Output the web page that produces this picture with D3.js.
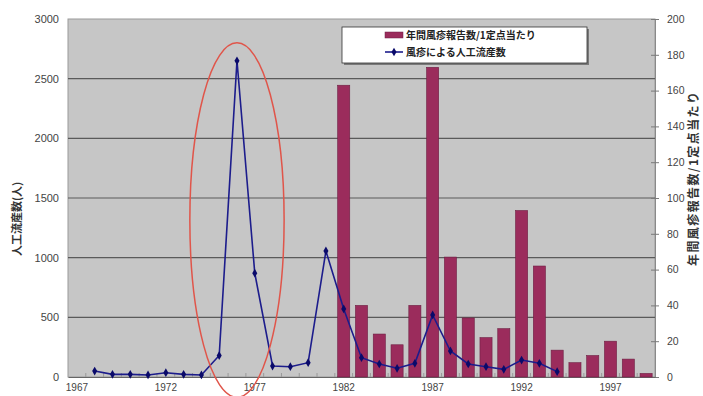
<!DOCTYPE html>
<html>
<head>
<meta charset="utf-8">
<script src="https://cdn.jsdelivr.net/npm/d3@7"></script>
<style>
  html, body { margin: 0; padding: 0; background: #fff; }
  svg { display: block; font-family: "Noto Sans CJK JP", "Noto Sans", sans-serif; }
</style>
</head>
<body>
<svg id="chart" width="703" height="396"></svg>
<script>
// Categories: every year on the horizontal axis
const years = d3.range(1967, 2000);
const yearTicks = [1967, 1972, 1977, 1982, 1987, 1992, 1997];

// Rubella reports per sentinel site (right axis), 1982-1999
const reportYears = d3.range(1982, 2000);
const reportsPerSite = [163, 40, 24, 18, 40, 173, 67, 33, 22, 27, 93, 62, 15, 8, 12, 20, 10, 2];

// Induced abortions due to rubella (left axis), 1968-1994
const abortionYears = d3.range(1968, 1995);
const abortions = [50, 22, 22, 17, 36, 22, 17, 180, 2650, 870, 92, 86, 120, 1056, 570,
                   162, 109, 73, 115, 520, 218, 109, 86, 64, 142, 115, 45];

const leftTicks = [0, 500, 1000, 1500, 2000, 2500, 3000];
const rightTicks = d3.range(0, 201, 20);

const seriesNames = ["年間風疹報告数/1定点当たり", "風疹による人工流産数"];
const leftTitle = "人工流産数(人)";
const rightTitle = "年間風疹報告数/1定点当たり";

const svg = d3.select("#chart");
const plot = { left: 68, right: 655, top: 19, bottom: 377 };

const x = d3.scaleBand().domain(years).range([plot.left, plot.right]);
const yL = d3.scaleLinear().domain([0, 3000]).range([plot.bottom, plot.top]);
const yR = d3.scaleLinear().domain([0, 200]).range([plot.bottom, plot.top]);
const cx = yr => x(yr) + x.bandwidth() / 2;
const plain = d3.format("d");

// plot background
svg.append("rect")
  .attr("x", plot.left).attr("y", plot.top)
  .attr("width", plot.right - plot.left).attr("height", plot.bottom - plot.top)
  .attr("fill", "#c6c6c6").attr("stroke", "#9a9a9a").attr("stroke-width", 1);

// horizontal gridlines on the left scale
svg.append("g").selectAll("line")
  .data(leftTicks.filter(d => d > 0 && d < 3000))
  .join("line")
  .attr("x1", plot.left).attr("x2", plot.right)
  .attr("y1", d => yL(d)).attr("y2", d => yL(d))
  .attr("stroke", "#5a5a5a").attr("stroke-width", 1.2);

// small category ticks along the base
svg.append("g").selectAll("line")
  .data(years.slice(1))
  .join("line")
  .attr("x1", d => x(d)).attr("x2", d => x(d))
  .attr("y1", plot.bottom).attr("y2", plot.bottom - 4)
  .attr("stroke", "#9a9a9a").attr("stroke-width", 1);

// left axis labels
const gL = svg.append("g").attr("transform", `translate(${plot.left},0)`)
  .call(d3.axisLeft(yL).tickValues(leftTicks).tickFormat(plain).tickSize(0).tickPadding(9));
gL.select(".domain").remove();
gL.selectAll("text").attr("font-size", 11).attr("fill", "#444")
  .attr("font-family", "Liberation Sans, Arial, sans-serif");

// right axis with short tick marks
const gR = svg.append("g").attr("transform", `translate(${plot.right},0)`)
  .call(d3.axisRight(yR).tickValues(rightTicks).tickFormat(plain).tickSize(4).tickPadding(8));
gR.select(".domain").attr("stroke", "#8a8a8a");
gR.selectAll(".tick line").attr("stroke", "#7a7a7a").attr("x1", -4);
gR.selectAll("text").attr("font-size", 10.5).attr("fill", "#444")
  .attr("font-family", "Liberation Sans, Arial, sans-serif");

// bottom axis labels
const gX = svg.append("g").attr("transform", `translate(0,${plot.bottom})`)
  .call(d3.axisBottom(x).tickValues(yearTicks).tickSize(0).tickPadding(7));
gX.select(".domain").attr("stroke", "#666");
gX.selectAll("text").attr("font-size", 10).attr("fill", "#444")
  .attr("font-family", "Liberation Sans, Arial, sans-serif");

// bars: reports per site
const barW = x.bandwidth() * 0.68;
svg.append("g").selectAll("rect")
  .data(reportYears.map((yr, i) => ({ yr, v: reportsPerSite[i] })))
  .join("rect")
  .attr("x", d => cx(d.yr) - barW / 2)
  .attr("y", d => yR(d.v))
  .attr("width", barW)
  .attr("height", d => yR(0) - yR(d.v))
  .attr("fill", "#9b2c5c").attr("stroke", "#6e1f43").attr("stroke-width", 0.6);

// line: abortions
const pts = abortionYears.map((yr, i) => ({ yr, v: abortions[i] }));
svg.append("path")
  .datum(pts)
  .attr("fill", "none").attr("stroke", "#1c1c8c").attr("stroke-width", 1.6)
  .attr("d", d3.line().x(d => cx(d.yr)).y(d => yL(d.v)));
svg.append("g").selectAll("path")
  .data(pts)
  .join("path")
  .attr("transform", d => `translate(${cx(d.yr)},${yL(d.v)})`)
  .attr("d", d3.symbol(d3.symbolDiamond, 22))
  .attr("fill", "#0a0a6a");

// ellipse around the 1976 peak
const eTop = yL(2800), eBot = yL(-170);
svg.append("ellipse")
  .attr("cx", cx(1976)).attr("cy", (eTop + eBot) / 2)
  .attr("rx", x.bandwidth() * 2.65).attr("ry", (eBot - eTop) / 2)
  .attr("fill", "none").attr("stroke", "#e0554a").attr("stroke-width", 1.5);

// legend
const lg = svg.append("g").attr("transform", "translate(342,27)");
lg.append("rect").attr("x", 2).attr("y", 2).attr("width", 245).attr("height", 36).attr("fill", "#7a7a7a");
lg.append("rect").attr("width", 245).attr("height", 36)
  .attr("fill", "#fff").attr("stroke", "#333").attr("stroke-width", 0.8);
lg.append("rect").attr("x", 43).attr("y", 5).attr("width", 18).attr("height", 6)
  .attr("fill", "#9b2c5c").attr("stroke", "#6e1f43").attr("stroke-width", 0.5);
lg.append("line").attr("x1", 43).attr("x2", 61).attr("y1", 25).attr("y2", 25)
  .attr("stroke", "#1c1c8c").attr("stroke-width", 1.6);
lg.append("path").attr("transform", "translate(52,25)")
  .attr("d", d3.symbol(d3.symbolDiamond, 22)).attr("fill", "#0a0a6a");
lg.selectAll("text.lab").data(seriesNames).join("text")
  .attr("class", "lab")
  .attr("x", 64).attr("y", (d, i) => 8 + i * 17)
  .attr("dy", "0.35em")
  .attr("font-size", 10).attr("font-weight", "bold").attr("fill", "#222")
  .text(d => d);

// axis titles
svg.append("text")
  .attr("transform", `translate(17,${(yL(1650) + yL(1000)) / 2}) rotate(-90)`)
  .attr("text-anchor", "middle").attr("dy", "0.35em")
  .attr("font-size", 11).attr("font-weight", "bold").attr("fill", "#333")
  .text(leftTitle);
svg.append("text")
  .attr("transform", `translate(694,${(yR(162) + yR(60)) / 2}) rotate(-90)`)
  .attr("text-anchor", "middle").attr("dy", "0.35em")
  .attr("font-size", 12).attr("letter-spacing", 1.4).attr("font-weight", "bold").attr("fill", "#333")
  .text(rightTitle);
</script>
</body>
</html>
